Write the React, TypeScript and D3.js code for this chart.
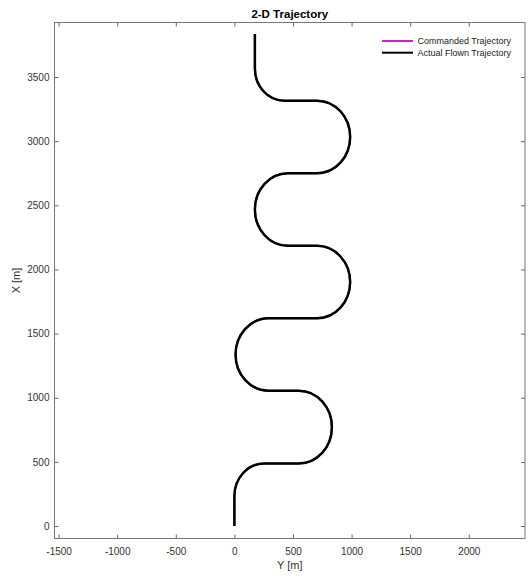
import React, { useEffect, useRef } from "react";
import * as d3 from "d3";

const chartTitle = "2-D Trajectory";
const xLabel = "Y [m]";
const yLabel = "X [m]";
const xTicks = [-1500, -1000, -500, 0, 500, 1000, 1500, 2000];
const yTicks = [0, 500, 1000, 1500, 2000, 2500, 3000, 3500];
const seriesNames = ["Commanded Trajectory", "Actual Flown Trajectory"];
const seriesColors = ["#d21fd2", "#000000"];

// waypoints of the path (corners of the legs), Y east / X north in metres
const wayY = [0, 0, 832, 832, 10, 10, 988, 988, 175, 175, 988, 988, 175, 175];
const wayX = [0, 488, 488, 1055, 1055, 1620, 1620, 2184, 2184, 2750, 2750, 3316, 3316, 3836];
// turn radius at every inner waypoint [m]
const turnRadius = [255, 283, 283, 283, 283, 283, 283, 283, 283, 283, 283, 250];

const W = 528;
const H = 577;
const M = { left: 54.5, right: 525, top: 22.5, bottom: 538.5 };

const App = () => {
  const chartRef = useRef<HTMLDivElement>(null);
  useEffect(() => {
    if (!chartRef.current) return;
    d3.select(chartRef.current).select("svg").remove();
    const svg = d3
      .select(chartRef.current)
      .append("svg")
      .attr("width", W)
      .attr("height", H)
      .style("position", "absolute")
      .style("left", "0px")
      .style("top", "0px")
      .style("background", "#fff")
      .style("font-family", "'Liberation Sans', Arial, sans-serif");

    const x = d3.scaleLinear().domain([-1535, 2480]).range([M.left, M.right]);
    const y = d3.scaleLinear().domain([-97, 3925]).range([M.bottom, M.top]);
    const kx = x(1) - x(0);
    const ky = y(0) - y(1);

    // ticks on all four sides, pointing inwards
    const fmt = (d: d3.NumberValue) => String(d);
    const axes = [
      { ax: d3.axisBottom(x).tickValues(xTicks).tickFormat(fmt).tickPadding(9), t: `translate(0,${M.bottom})` },
      { ax: d3.axisLeft(y).tickValues(yTicks).tickFormat(fmt).tickPadding(5), t: `translate(${M.left},0)` },
      { ax: d3.axisTop(x).tickValues(xTicks).tickFormat(() => ""), t: `translate(0,${M.top})` },
      { ax: d3.axisRight(y).tickValues(yTicks).tickFormat(() => ""), t: `translate(${M.right},0)` },
    ];
    axes.forEach(({ ax, t }) => {
      const g = svg.append("g").attr("transform", t).call(ax.tickSize(-4).tickSizeOuter(0) as any);
      g.select(".domain").remove();
      g.selectAll("line").attr("stroke", "#666");
      g.selectAll("text").attr("fill", "#333").style("font-size", "10px").style("font-family", "inherit");
    });

    // box
    svg
      .append("rect")
      .attr("x", M.left)
      .attr("y", M.top)
      .attr("width", M.right - M.left)
      .attr("height", M.bottom - M.top)
      .attr("fill", "none")
      .attr("stroke", "#777")
      .attr("stroke-width", 1);

    // legs joined by circular turns (circles in metres, so ellipses on screen)
    const trajectory = () => {
      const n = wayY.length;
      let d = `M${x(wayY[0])},${y(wayX[0])}`;
      for (let i = 1; i < n - 1; i++) {
        const r = turnRadius[i - 1];
        const ax = wayY[i - 1] - wayY[i], ay = wayX[i - 1] - wayX[i];
        const bx = wayY[i + 1] - wayY[i], by = wayX[i + 1] - wayX[i];
        const la = Math.hypot(ax, ay), lb = Math.hypot(bx, by);
        const ang = Math.acos((ax * bx + ay * by) / (la * lb));
        const t = r / Math.tan(ang / 2);
        const p1 = [wayY[i] + (ax / la) * t, wayX[i] + (ay / la) * t];
        const p2 = [wayY[i] + (bx / lb) * t, wayX[i] + (by / lb) * t];
        // turn direction on screen
        const sx1 = x(wayY[i]) - x(wayY[i - 1]), sy1 = y(wayX[i]) - y(wayX[i - 1]);
        const sx2 = x(wayY[i + 1]) - x(wayY[i]), sy2 = y(wayX[i + 1]) - y(wayX[i]);
        const sweep = sx1 * sy2 - sy1 * sx2 > 0 ? 1 : 0;
        d += `L${x(p1[0])},${y(p1[1])}`;
        d += `A${r * kx},${r * ky} 0 0 ${sweep} ${x(p2[0])},${y(p2[1])}`;
      }
      d += `L${x(wayY[n - 1])},${y(wayX[n - 1])}`;
      return d;
    };

    svg.append("path").attr("d", trajectory()).attr("fill", "none").attr("stroke", seriesColors[0]).attr("stroke-width", 2);
    svg.append("path").attr("d", trajectory()).attr("fill", "none").attr("stroke", seriesColors[1]).attr("stroke-width", 2.5);

    // legend (no box)
    const leg = svg.append("g");
    seriesNames.forEach((name, i) => {
      const ly = 41 + i * 11.7;
      leg.append("line").attr("x1", 382).attr("x2", 413).attr("y1", ly).attr("y2", ly).attr("stroke", seriesColors[i]).attr("stroke-width", 2);
      leg.append("text").attr("x", 417.5).attr("y", ly + 3.2).attr("fill", "#222").style("font-size", "9px").text(name);
    });

    svg
      .append("text")
      .attr("x", (M.left + M.right) / 2)
      .attr("y", 17.5)
      .attr("text-anchor", "middle")
      .style("font-size", "11.5px")
      .style("font-weight", "bold")
      .attr("fill", "#000")
      .text(chartTitle);

    svg
      .append("text")
      .attr("x", (M.left + M.right) / 2)
      .attr("y", 569)
      .attr("text-anchor", "middle")
      .style("font-size", "11px")
      .attr("fill", "#333")
      .text(xLabel);

    svg
      .append("text")
      .attr("transform", `translate(20,${(M.top + M.bottom) / 2}) rotate(-90)`)
      .attr("text-anchor", "middle")
      .style("font-size", "11px")
      .attr("fill", "#333")
      .text(yLabel);
  }, []);
  return <div ref={chartRef}></div>;
};

export default App;
